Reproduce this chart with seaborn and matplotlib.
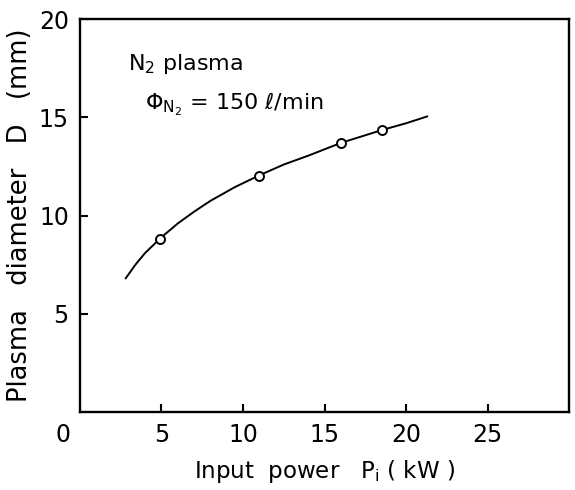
import matplotlib
matplotlib.use("Agg")
import matplotlib.pyplot as plt
import matplotlib.transforms as mtransforms
import seaborn as sns

# measured points
power_kw = [4.9, 11.0, 16.0, 18.5]
diameter_mm = [8.8, 12.0, 13.7, 14.35]

# hand-drawn fitted curve
curve_power = [2.8, 3.4, 4.0, 5.0, 6.0, 7.0, 8.0, 9.5, 11.0, 12.5, 14.0, 16.0, 18.5, 20.0, 21.3]
curve_diam = [6.8, 7.5, 8.1, 8.9, 9.6, 10.2, 10.75, 11.45, 12.05, 12.6, 13.05, 13.7, 14.35, 14.7, 15.05]

sns.set_style("ticks", {"axes.edgecolor": "black", "xtick.color": "black",
                        "ytick.color": "black", "text.color": "black",
                        "axes.labelcolor": "black"})
plt.rcParams["font.family"] = ["DejaVu Sans"]

fig = plt.figure(figsize=(5.75, 4.9), dpi=100)
ax = fig.add_axes([0.139, 0.159, 0.851, 0.802])

sns.lineplot(x=curve_power, y=curve_diam, ax=ax, color="black", linewidth=1.4, sort=False)
sns.scatterplot(x=power_kw, y=diameter_mm, ax=ax, marker="o", s=42,
                facecolor="white", edgecolor="black", linewidth=1.4, zorder=3)

ax.set_xlim(0, 30)
ax.set_ylim(0, 20)
ax.set_xticks([0, 5, 10, 15, 20, 25])
ax.set_yticks([5, 10, 15, 20])
ax.tick_params(direction="in", length=6, width=1.5, labelsize=17, pad=8, colors="black")
for s in ax.spines.values():
    s.set_linewidth(1.7)
    s.set_color("black")

# shift the origin label to the left like the original
lab0 = ax.get_xticklabels()[0]
lab0.set_transform(lab0.get_transform() + mtransforms.ScaledTranslation(-0.17, 0, fig.dpi_scale_trans))
ax.get_xticklines()[0].set_visible(False)

ax.set_xlabel("Input  power   P$_\\mathregular{i}$ ( kW )", fontsize=16.5, labelpad=8, color="black")
ax.set_ylabel("Plasma   diameter   D   (mm)", fontsize=18.5, labelpad=4, color="black")

ax.text(0.098, 0.87, "N$_\\mathregular{2}$ plasma", transform=ax.transAxes, fontsize=16, color="black")
ax.text(0.133, 0.77, "$\\mathregular{\\Phi_{N_2}}$ = 150 ℓ/min", transform=ax.transAxes, fontsize=16, color="black")

fig.savefig("out.png", dpi=100)
